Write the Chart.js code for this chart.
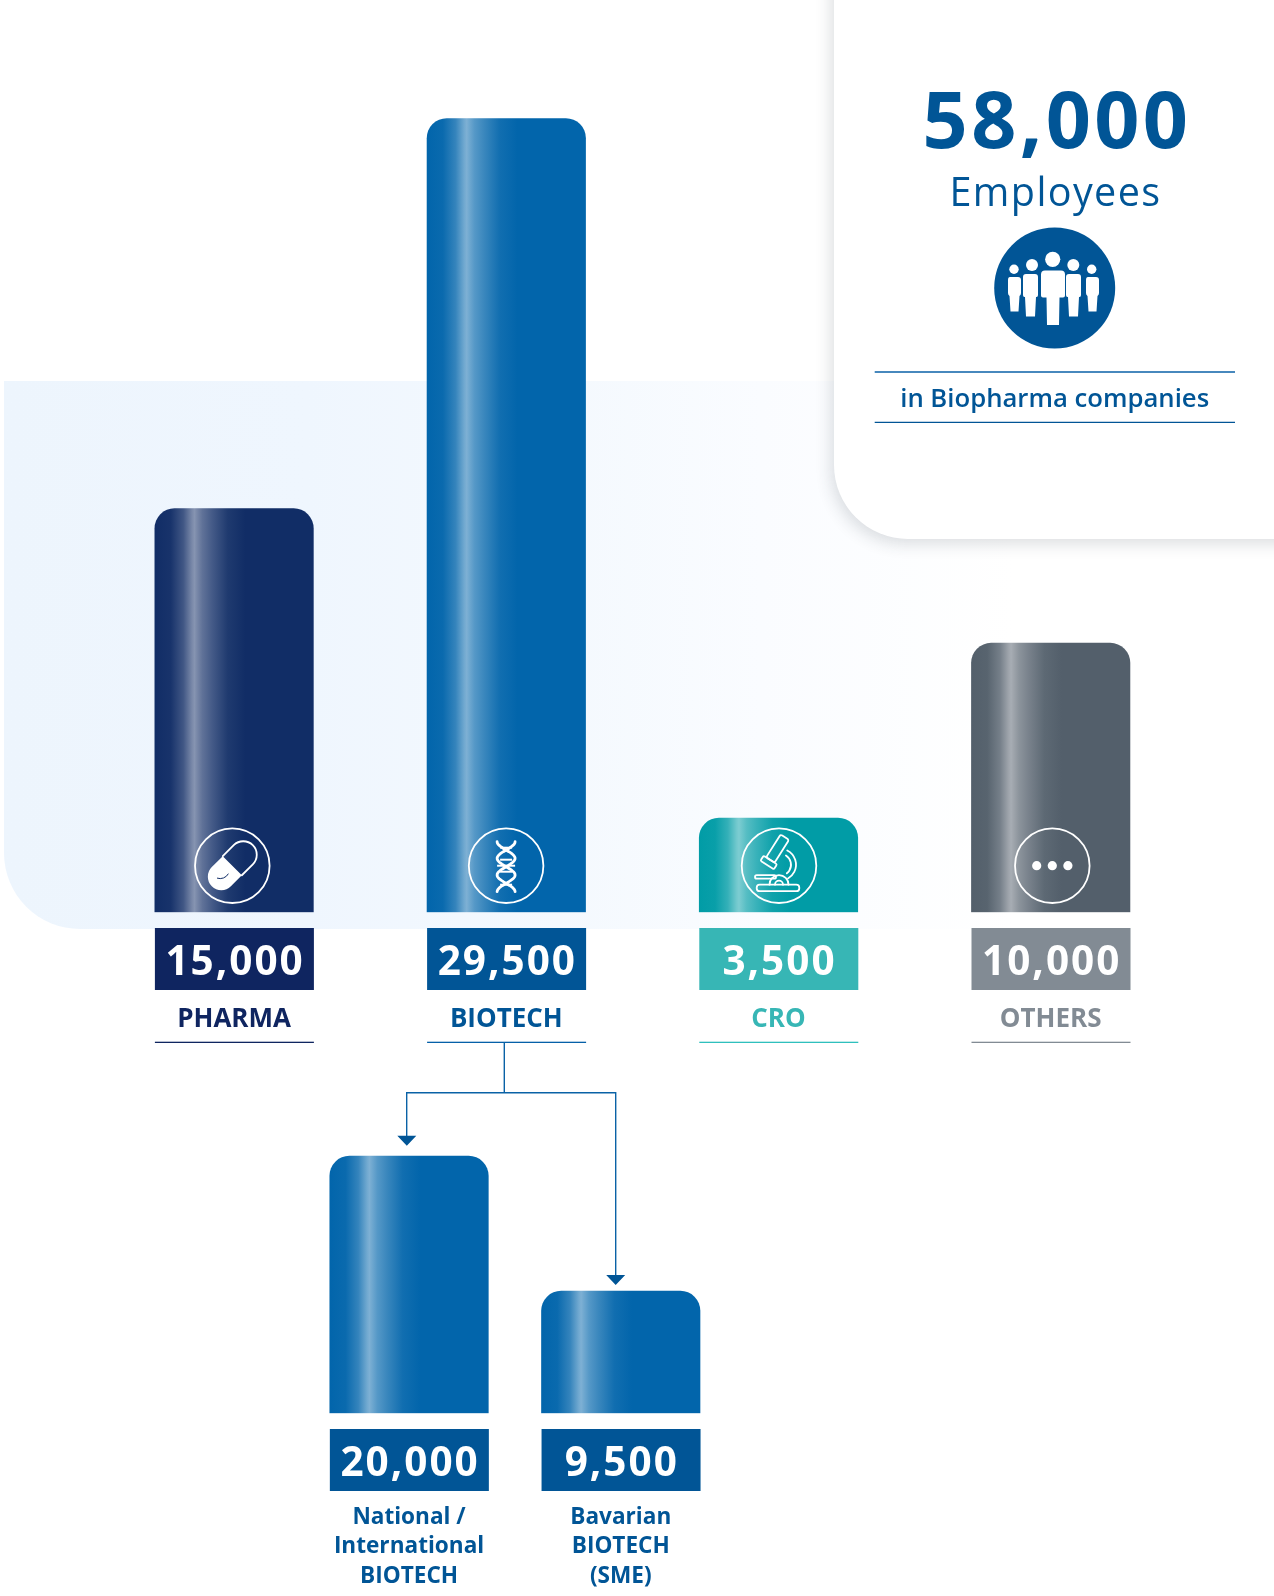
<!DOCTYPE html>
<html><head><meta charset="utf-8">
<style>
html,body{margin:0;padding:0;background:#fff;width:1274px;height:1596px;overflow:hidden}
#panel{position:absolute;left:4px;top:381px;width:1010px;height:548px;border-bottom-left-radius:76px;
 background:linear-gradient(90deg,#edf5fd 0%,#eff6fe 30%,#f4f9fe 55%,#fafcff 75%,#ffffff 100%)}
#card{position:absolute;left:834px;top:-20px;width:460px;height:559px;background:#fff;border-bottom-left-radius:74px;
 box-shadow:-3px 5px 16px rgba(40,50,60,.16)}
canvas{position:absolute;left:0;top:0}
svg{position:absolute;left:0;top:0}
svg text{font-family:"Open Sans",sans-serif;fill:#015596;text-anchor:middle}
</style>
<script src="https://cdn.jsdelivr.net/npm/chart.js@4/dist/chart.umd.min.js"></script>
</head><body>
<div id="panel"></div><div id="card"></div>
<canvas id="main" width="1274" height="1596"></canvas>
<canvas id="sub" width="1274" height="1596"></canvas>
<svg width="1274" height="1596" viewBox="0 0 1274 1596">
  <text x="1057" y="148.3" font-size="79" font-weight="700" letter-spacing="3.4">58,000</text>
  <text x="1055.5" y="206" font-size="39.500" font-weight="400" letter-spacing="1.4">Employees</text>
  <circle cx="1054.7" cy="288" r="60.5" fill="#015596"/>
  <g fill="#fff">
    <circle cx="1052.7" cy="259.3" r="7.6"/><circle cx="1032" cy="265" r="6"/><circle cx="1073.3" cy="265" r="6"/><circle cx="1014" cy="269.3" r="4.7"/><circle cx="1091.7" cy="269.3" r="4.7"/>
    <path d="M1045 270.5h16q4 0 4 4v21q0 2-2 2h-3.5l-.5 27.5h-12l-.5-27.5H1043q-2 0-2-2v-21q0-4 4-4z"/>
    <path d="M1027 274h8q3 0 3 3v18q0 2-1.500 2h-.5l-1 19.500h-9l-1-19.500h-.5q-1.500 0-1.500-2v-18q0-3 3-3z"/>
    <path d="M1070 274h8q3 0 3 3v18q0 2-1.500 2h-.500l-1 19.500h-9l-1-19.500h-.5q-1.500 0-1.500-2v-18q0-3 3-3z"/>
    <path d="M1009 277h9q3 0 3 3v13q0 2-1.500 3l-1 15.500h-8l-1-15.500q-1.500-1-1.500-3v-13q0-3 2-3z"/>
    <path d="M1087 277h9q3 0 3 3v13q0 2-1.500 3l-1 15.500h-8l-1-15.500q-1.500-1-1.500-3v-13q0-3 2-3z"/>
  </g>
  <line x1="874.7" x2="1235" y1="372" y2="372" stroke="#0a61a7" stroke-width="1.3"/>
  <line x1="874.7" x2="1235" y1="422.3" y2="422.3" stroke="#015596" stroke-width="1.3"/>
  <text x="1054.7" y="406.7" font-size="25.700" font-weight="600">in Biopharma companies</text>
  <path d="M504.3 1042V1092.700M406.700 1136V1092.700H615.700V1275" fill="none" stroke="#0a62a6" stroke-width="1.4"/>
  <path d="M397.300 1135.700h19l-9.500 10zM606.200 1275h19l-9.500 10z" fill="#015596"/>
</svg>
<script>
const categories = ['PHARMA', 'BIOTECH', 'CRO', 'OTHERS'];
const employees = [15000, 29500, 3500, 10000];
const subCategories = [['National /', 'International', 'BIOTECH'], ['Bavarian', 'BIOTECH', '(SME)']];
const subEmployees = [20000, 9500];
const barColors = ['#112d66', '#0265ab', '#019ca6', '#535f6b'];
const boxColors = ['#0f2560', '#015596', '#37b6b5', '#828b94'];
const labelColors = ['#0f2560', '#015596', '#37b6b5', '#828b94'];
const ruleColors = ['#0f2560', '#0560a8', '#2fc0bd', '#828b94'];
const iconNames = ['pill', 'dna', 'scope', 'dots'];
const subBarColors = ['#0265ab', '#0265ab'];
const subBoxColors = ['#015596', '#015596'];
const subLabelColors = ['#015596', '#015596'];

const BAR_W = 158.5;
const sheen = [[0,0],[.1,.03],[.18,.2],[.235,.44],[.25,.49],[.265,.44],[.3,.33],[.36,.22],[.46,.06],[.57,0],[1,0]];
function mix(hex, t){
  const n = parseInt(hex.slice(1),16), c=[n>>16,(n>>8)&255,n&255].map(v=>Math.round(v+(255-v)*t));
  return `rgb(${c[0]},${c[1]},${c[2]})`;
}
function barFill(colors){
  return ctx => {
    const base = colors[ctx.dataIndex], ch = ctx.chart;
    if(!ch.chartArea) return base;
    const cx = ch.scales.x.getPixelForValue(ctx.dataIndex);
    const g = ch.ctx.createLinearGradient(cx-BAR_W/2,0,cx+BAR_W/2,0);
    sheen.forEach(s=>g.addColorStop(s[0],mix(base,s[1])));
    return g;
  };
}
function drawIcon(c,name,x,y,dark){
  c.save(); c.translate(x,y); c.strokeStyle='#fff'; c.fillStyle='#fff'; c.lineWidth=1.8; c.lineCap='round'; c.lineJoin='round';
  c.beginPath(); c.arc(0,0,37.3,0,Math.PI*2); c.stroke();
  if(name==='pill'){
    c.rotate(-Math.PI/4); const L=29,R=13.5;
    c.beginPath(); c.moveTo(0,-R); c.lineTo(-L+R,-R); c.arc(-L+R,0,R,-Math.PI/2,Math.PI/2,true); c.lineTo(0,R); c.closePath(); c.fill();
    c.beginPath(); c.moveTo(0,-R); c.lineTo(L-R,-R); c.arc(L-R,0,R,-Math.PI/2,Math.PI/2); c.lineTo(0,R); c.stroke();
    c.rotate(Math.PI/4); c.strokeStyle=dark; c.lineWidth=1;
    c.beginPath(); c.arc(-12,4,9,.5,1.9); c.stroke();
  } else if(name==='dna'){
    c.lineWidth=2.8;
    [1,-1].forEach(s=>{ c.beginPath();
      for(let i=0;i<=40;i++){ const t=i/40, yy=-24+50*t, xx=s*9*Math.cos(t*Math.PI*3); i?c.lineTo(xx,yy):c.moveTo(xx,yy);} c.stroke();});
    c.lineWidth=2; c.lineCap='butt';
    [[-18,6],[-6,6],[0,9],[6,6],[19,6]].forEach(r=>{c.beginPath();c.moveTo(-r[1],r[0]);c.lineTo(r[1],r[0]);c.stroke();});
  } else if(name==='scope'){
    c.save(); c.translate(-1.7,-16.7); c.rotate(Math.PI*.18);
    c.beginPath(); c.roundRect(-5,-14,10,27,2); c.stroke();
    c.beginPath(); c.roundRect(-8,13,16,6,1.5); c.stroke(); c.restore();
    c.beginPath(); c.arc(1,-1,16,-1.1,1.05); c.stroke();
    c.beginPath(); c.arc(1,-1,11,-1.0,.9); c.stroke();
    c.beginPath(); c.roundRect(-22.3,19,42.6,6.5,3); c.stroke();
    c.beginPath(); c.roundRect(-24,9.5,21,3.5,1.7); c.stroke();
    c.beginPath(); c.arc(0,19,9.5,Math.PI,0); c.stroke();
    c.beginPath(); c.arc(0,19,4,Math.PI,0); c.stroke();
  } else {
    [-15.6,0,15.6].forEach(d=>{c.beginPath();c.arc(d,0,4.6,0,Math.PI*2);c.fill();});
  }
  c.restore();
}
function decorations(boxes, rules, icons, boxTop){
  return { id:'decor', afterDatasetsDraw(ch){
    const c=ch.ctx, values=ch.data.datasets[0].data;
    values.forEach((v,i)=>{
      const cx=ch.scales.x.getPixelForValue(i), left=cx-79.5+.3;
      c.fillStyle=boxes[i]; c.fillRect(left,boxTop,159,62);
      c.save(); c.fillStyle='#fff'; c.font='700 40.5px "Open Sans"'; c.letterSpacing='2px';
      c.textAlign='center'; c.textBaseline='alphabetic';
      c.fillText(v.toLocaleString('en-US'),cx+1,boxTop+47); c.restore();
      if(rules){ c.fillStyle=rules[i]; c.fillRect(left,boxTop+113.7,159,1.3); }
      if(icons){ drawIcon(c,icons[i],cx+[-1.8,-.2,.5,1.6][i],ch.chartArea.bottom-46.6,barColors[i]); }
    });
  }};
}
function makeChart(id,labels,data,colors,labelCols,plugin,o){
  return new Chart(document.getElementById(id),{
    type:'bar',
    data:{labels,datasets:[{data,backgroundColor:barFill(colors),barThickness:BAR_W,borderWidth:0,
      borderRadius:{topLeft:20,topRight:20,bottomLeft:0,bottomRight:0},borderSkipped:false}]},
    plugins:[plugin],
    options:{responsive:false,animation:false,devicePixelRatio:1,
      events:[],
      layout:{padding:{left:o.left,right:1274-o.right,top:o.top,bottom:0}},
      plugins:{legend:{display:false},tooltip:{enabled:false},title:{display:false}},
      scales:{
        y:{display:false,min:0,max:o.max},
        x:{offset:true,border:{display:false},grid:{display:false,drawTicks:false},
          afterFit:s=>{s.height=o.axisH;},
          ticks:{autoSkip:false,maxRotation:0,padding:o.pad,color:c=>labelCols[c.index],
            font:{family:'"Open Sans"',weight:'700',size:o.font,lineHeight:o.lh}}}
      }
    }
  });
}
const mainPlugin=decorations(boxColors,ruleColors,iconNames,928);
const subPlugin=decorations(subBoxColors,null,null,1429);
document.fonts.load('700 40px "Open Sans"').finally(()=>{
  makeChart('main',categories,employees,barColors,labelColors,mainPlugin,
    {left:98,right:1186.8,top:105,max:30000,axisH:683.7,pad:91.5,font:26,lh:1.2});
  makeChart('sub',subCategories,subEmployees,subBarColors,subLabelColors,subPlugin,
    {left:303.2,right:726.6,top:1143.3,max:21000,axisH:182.7,pad:89.5,font:22.6,lh:1.3});
});
</script>
</body></html>
